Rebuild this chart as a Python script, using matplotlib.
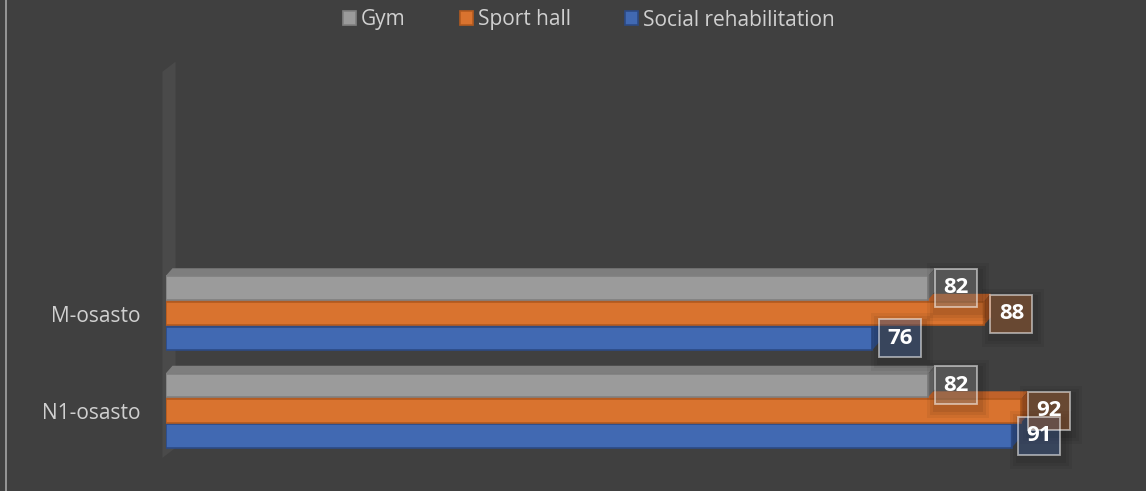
import matplotlib
matplotlib.use("Agg")
import matplotlib.pyplot as plt
from matplotlib.patches import Polygon, Rectangle, Patch
from matplotlib.lines import Line2D

# ---- data ----
categories = ["N1-osasto", "M-osasto"]
series_names = ["Gym", "Sport hall", "Social rehabilitation"]
gym = [82, 82]
sport_hall = [92, 88]
social_rehab = [91, 76]

plt.rcParams['font.family'] = ['Open Sans', 'DejaVu Sans']

BG = "#404040"
TXT = "#D0D0D0"
front = {"Gym": "#9B9B9B", "Sport hall": "#D9732F", "Social rehabilitation": "#4169B2"}
topc = {"Gym": "#7E7E7E", "Sport hall": "#C0622A", "Social rehabilitation": "#37599A"}
sidec = {"Gym": "#6A6A6A", "Sport hall": "#A2511F", "Social rehabilitation": "#2E4C85"}
edgec = {"Gym": "#808080", "Sport hall": "#B35A1F", "Social rehabilitation": "#2C4A85"}

W, H = 1146, 491
fig = plt.figure(figsize=(W / 100, H / 100), dpi=100, facecolor=BG)

ax_left_px, ax_right_px = 165.5, 1095.5
ax_top_px, ax_bot_px = 69.75, 459.75
ax = fig.add_axes([ax_left_px / W, (H - ax_bot_px) / H,
                   (ax_right_px - ax_left_px) / W, (ax_bot_px - ax_top_px) / H])
ax.set_facecolor("none")
XMAX = 100
YMIN, YMAX = -0.5, 3.5
ax.set_xlim(0, XMAX)
ax.set_ylim(YMIN, YMAX)
px_x = (ax_right_px - ax_left_px) / XMAX
px_y = (ax_bot_px - ax_top_px) / (YMAX - YMIN)

for s in ax.spines.values():
    s.set_visible(False)
ax.set_xticks([])
ax.set_yticks(range(len(categories)))
ax.set_yticklabels(categories, color=TXT, fontsize=15)
ax.tick_params(axis="y", length=0, pad=18)

# back wall (left side)
wdx, wdy = 13 / px_x, 10 / px_y
wall = Polygon([(-3 / px_x, YMIN + 0.02), (-3 / px_x, YMAX - 0.02),
                (-3 / px_x + wdx, YMAX - 0.02 + wdy), (-3 / px_x + wdx, YMIN + 0.02 + wdy)],
               closed=True, facecolor="#4A4A4A", edgecolor="none", clip_on=False, zorder=0)
ax.add_patch(wall)

bar_h = 0.24
offs = {"Gym": 0.262, "Sport hall": 0.0, "Social rehabilitation": -0.255}
values = {"Gym": gym, "Sport hall": sport_hall, "Social rehabilitation": social_rehab}
ddx, ddy = 7 / px_x, 8 / px_y

z = 2
labels = []
for ci, cat in enumerate(categories):
    for name in ["Social rehabilitation", "Sport hall", "Gym"]:
        v = values[name][ci]
        yc = ci + offs[name]
        y0, y1 = yc - bar_h / 2, yc + bar_h / 2
        # top face
        ax.add_patch(Polygon([(0, y1), (v, y1), (v + ddx, y1 + ddy), (ddx, y1 + ddy)],
                             closed=True, facecolor=topc[name], edgecolor="none", zorder=z))
        # right face
        ax.add_patch(Polygon([(v, y0), (v + ddx, y0 + ddy), (v + ddx, y1 + ddy), (v, y1)],
                             closed=True, facecolor=sidec[name], edgecolor="none", zorder=z))
        ax.barh(yc, v, height=bar_h, color=front[name], edgecolor=edgec[name],
                linewidth=1.2, zorder=z + 0.5)
        z += 1
        labels.append((name, v, yc))

# data labels
bw, bh = 42 / px_x, 38 / px_y
for name, v, yc in labels:
    x0 = v + 6.5 / px_x
    # soft shadow
    for k, a in [(10, 0.05), (7, 0.06), (4, 0.07)]:
        ax.add_patch(Rectangle((x0 + 2 / px_x - k / px_x, yc - bh / 2 - 4 / px_y - k / px_y),
                               bw + 2 * k / px_x, bh + 2 * k / px_y, facecolor="black",
                               alpha=a, edgecolor="none", zorder=45, clip_on=False))
    ax.add_patch(Rectangle((x0, yc - bh / 2), bw, bh, facecolor=front[name], alpha=0.32,
                           edgecolor="none", zorder=50, clip_on=False))
    ax.add_patch(Rectangle((x0, yc - bh / 2), bw, bh, facecolor="none",
                           edgecolor=(1, 1, 1, 0.55), linewidth=1.3, zorder=51, clip_on=False))
    ax.text(x0 + bw / 2, yc, f"{v}", color="white", fontsize=16, fontweight="bold",
            ha="center", va="center", zorder=52, clip_on=False)

# legend
handles = [Patch(facecolor=front[n], edgecolor=edgec[n], linewidth=1.2) for n in series_names]
leg = fig.legend(handles, series_names, loc="center", bbox_to_anchor=(589 / W, 1 - 20 / H),
                 ncol=3, frameon=False, fontsize=15, handlelength=0.62, handleheight=0.62,
                 handletextpad=0.25, columnspacing=2.6, labelcolor=TXT)

# chart-area left border
fig.lines.append(Line2D([6 / W, 6 / W], [0, 1], transform=fig.transFigure,
                        color="#A6A6A6", linewidth=1.2))

fig.savefig("out.png", dpi=100, facecolor=BG)
